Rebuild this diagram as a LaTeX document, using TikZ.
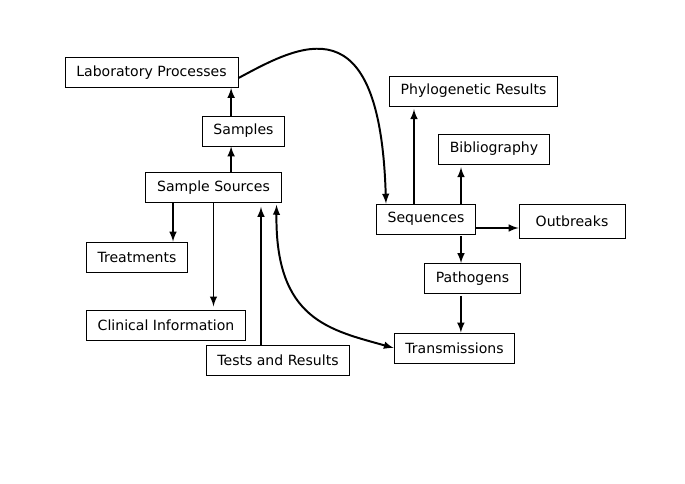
\documentclass[tikz,border=0pt]{standalone}
\usepackage{fontspec}
\setmainfont{DejaVu Sans}

\begin{document}
\begin{tikzpicture}[x=0.025cm, y=-0.025cm]
		\tikzset{
			box/.style={
				draw, rectangle, semithick, minimum height=0.75cm, inner xsep=8pt, font=\fontsize{10}{12}\selectfont
			},
			link/.style={
				->, >=latex, line width=1.4pt
			},
			dlink/.style={
				link, <->
			}
		}
		
		\useasboundingbox (0,0) rectangle (685,484);
		
		% left side
		\node [box] (lab) at (151.5,72.5) {Laboratory Processes};
		\node [box] (samp) at (243.5,131) {Samples};
		\node [box] (src) at (213.5,187.5) {Sample Sources};
		\node [box] (treat) at (137,257) {Treatments};
		\node [box] (clin) at (166,325) {Clinical Information};
		\node [box] (tests) at (278,360) {Tests and Results};
		
		% right side
		\node [box] (phylo) at (473.5,91) {Phylogenetic Results};
		\node [box] (bib) at (494,149) {Bibliography};
		\node [box] (seq) at (426,219) {Sequences};
		\node [box, minimum width=2.65cm, minimum height=0.87cm] (out) at (572,221.5) {Outbreaks};
		\node [box] (path) at (472.5,278.5) {Pathogens};
		\node [box] (trans) at (454.5,348) {Transmissions};
		
		\draw [link] ([xshift=-0.31cm]samp.north) -- ([xshift=-0.31cm]samp.north |- lab.south);
		\draw [link] ([xshift=-0.31cm]samp.south |- src.north) -- ([xshift=-0.31cm]samp.south);
		\draw [link] ([xshift=0.9cm]treat.north |- src.south) -- ([xshift=0.9cm]treat.north);
		\draw [link] (src.south) -- ([yshift=0.08cm]src.south |- clin.north);
		\draw [link] ([xshift=-0.425cm]tests.north) -- ([xshift=-0.425cm,yshift=-0.1cm]tests.north |- src.south);
		\draw [dlink] ([xshift=-0.125cm,yshift=-0.05cm]src.south east) .. controls (275,320) and (330,330) .. (trans.west);
		
		\draw [link] ([yshift=-0.14cm]lab.east) .. controls (300,45) and (380,0) .. ([xshift=0.25cm]seq.north west);
		\draw [link] ([xshift=-0.3cm]seq.north) -- ([xshift=-0.3cm,yshift=-0.07cm]seq.north |- phylo.south);
		\draw [link] ([xshift=0.875cm]seq.north) -- ([xshift=0.875cm,yshift=-0.07cm]seq.north |- bib.south);
		\draw [link] ([yshift=-0.225cm]seq.east) -- ([yshift=-0.225cm]seq.east -| out.west);
		\draw [link] ([xshift=0.875cm,yshift=-0.05cm]seq.south) -- ([xshift=0.875cm]seq.south |- path.north);
		\draw [link] ([xshift=-0.29cm,yshift=-0.05cm]path.south) -- ([xshift=-0.29cm]path.south |- trans.north);
\end{tikzpicture}
\end{document}
